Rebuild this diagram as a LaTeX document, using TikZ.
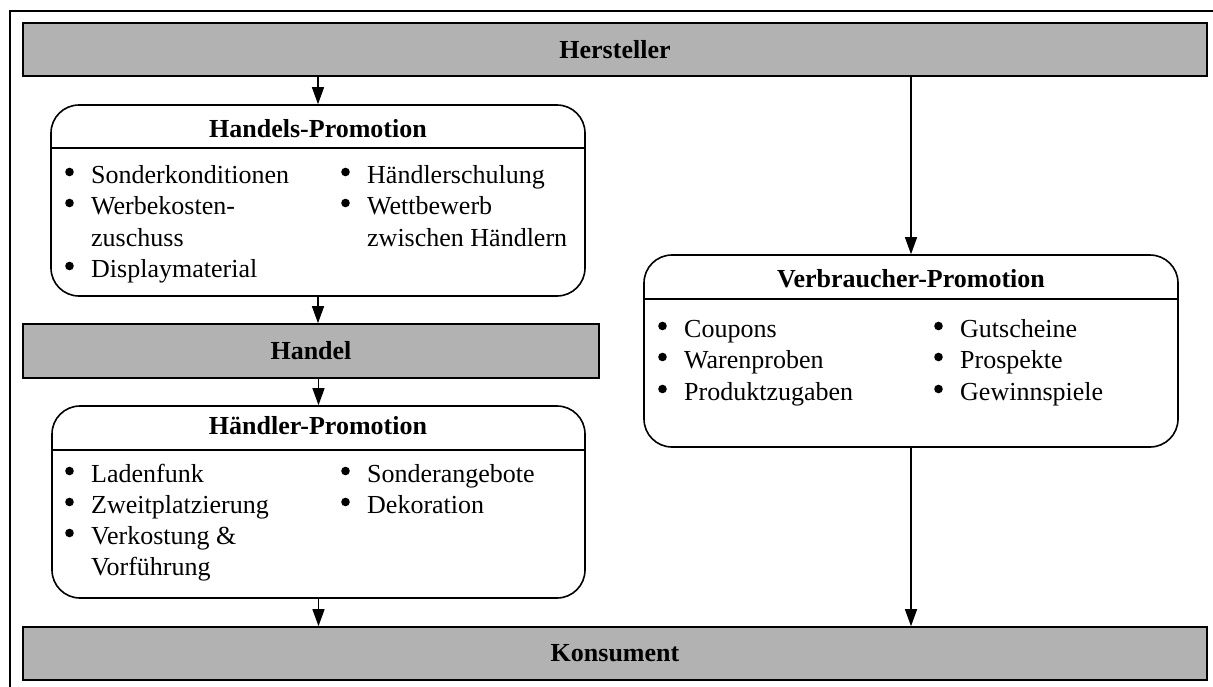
\documentclass[tikz,border=0pt]{standalone}
\usepackage{fontspec}
\setmainfont{Liberation Serif}
\usetikzlibrary{arrows.meta}
% bulleted line: text node plus a filled dot to its left
\newcommand{\bitem}[4]{\node[item] (#1) at (#2,#3) {#4};
  \fill ([shift={(-21.5,-11)}]#1.base west) circle (4.3pt);}
\newcommand{\citem}[4]{\node[item] (#1) at (#2,#3) {#4};}
\begin{document}
\fontsize{26}{31}\selectfont
\begin{tikzpicture}[x=1pt,y=-1pt,
  bar/.style={draw, line width=1.6pt, fill=black!30, font=\bfseries, inner sep=0pt},
  promo/.style={draw, line width=1.6pt, rounded corners=28pt, inner sep=0pt},
  head/.style={font=\bfseries, anchor=base, inner sep=0pt},
  item/.style={anchor=base west, inner sep=0pt},
  rule/.style={line width=1.6pt},
  arr/.style={line width=1.3pt, -{Triangle[length=17pt,width=12pt]}}]
\useasboundingbox (0,0) rectangle (1213,686);
% outer frame
\draw[line width=1.4pt] (10,11) rectangle (1230,700);

% channel bars
\node[bar, minimum width=1184pt, minimum height=53pt] (herst) at (615,49.5) {Hersteller};
\node[bar, minimum width=576pt, minimum height=54pt] (handel) at (311,351) {Handel};
\node[bar, minimum width=1184pt, minimum height=53pt] (kons) at (615,653.5) {Konsument};

% promotion boxes
\node[promo, minimum width=534pt, minimum height=191pt] (hp) at (318,200.5) {};
\node[promo, minimum width=533pt, minimum height=192pt] (dp) at (318.5,502) {};
\node[promo, minimum width=534pt, minimum height=192pt] (vp) at (911,351) {};

% header rules
\draw[rule] (hp.west |- 0,148) -- (hp.east |- 0,148);
\draw[rule] (dp.west |- 0,450) -- (dp.east |- 0,450);
\draw[rule] (vp.west |- 0,299) -- (vp.east |- 0,299);

% titles
\node[head] (hp-t) at (318,137) {Handels-Promotion};
\node[head] (dp-t) at (318,434) {Händler-Promotion};
\node[head] (vp-t) at (911,287) {Verbraucher-Promotion};

% Handels-Promotion items
\bitem{hp-a}{91}{183}{Sonderkonditionen}
\bitem{hp-b}{91}{214}{Werbekosten-}
\citem{hp-c}{91}{246}{zuschuss}
\bitem{hp-d}{91}{277}{Displaymaterial}
\bitem{hp-e}{367}{183}{Händlerschulung}
\bitem{hp-f}{367}{214}{Wettbewerb}
\citem{hp-g}{367}{246}{zwischen Händlern}

% Händler-Promotion items
\bitem{dp-a}{91}{482}{Ladenfunk}
\bitem{dp-b}{91}{513}{Zweitplatzierung}
\bitem{dp-c}{91}{544}{Verkostung \&}
\citem{dp-d}{91}{575}{Vorführung}
\bitem{dp-e}{367}{482}{Sonderangebote}
\bitem{dp-f}{367}{513}{Dekoration}

% Verbraucher-Promotion items
\bitem{vp-a}{684}{337}{Coupons}
\bitem{vp-b}{684}{368}{Warenproben}
\bitem{vp-c}{684}{400}{Produktzugaben}
\bitem{vp-d}{960}{337}{Gutscheine}
\bitem{vp-e}{960}{368}{Prospekte}
\bitem{vp-f}{960}{400}{Gewinnspiele}

% flows
\draw[arr] (hp.north |- herst.south) -- (hp.north);
\draw[arr] (hp.south) -- (hp.south |- handel.north);
\draw[arr] (dp.north |- handel.south) -- (dp.north);
\draw[arr] (dp.south) -- (dp.south |- kons.north);
\draw[arr] (vp.north |- herst.south) -- (vp.north);
\draw[arr] (vp.south) -- (vp.south |- kons.north);
\end{tikzpicture}
\end{document}
